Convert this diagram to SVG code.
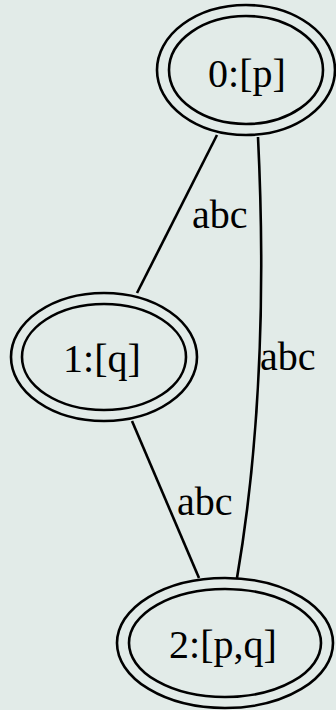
<svg xmlns="http://www.w3.org/2000/svg" width="336" height="710" viewBox="0 0 336 710">
<style>
.n ellipse{fill:none;stroke:#000;stroke-width:2.6}
.e path{fill:none;stroke:#000;stroke-width:2.6}
text{font-family:"Liberation Serif","Times New Roman",serif;font-size:40px;fill:#000}
.c{text-anchor:middle}
</style>
<rect width="336" height="710" fill="#e2ebe8"/>
<g id="edges" class="e">
<path d="M217,135 L137,293"/>
<path d="M258,137 C264,260 264,420 237,578"/>
<path d="M132,421 L199,578"/>
<text x="192" y="228">abc</text>
<text x="260" y="370">abc</text>
<text x="177" y="515">abc</text>
</g>
<g id="node0" class="n">
<ellipse cx="246" cy="70" rx="89" ry="65"/>
<ellipse cx="246" cy="70" rx="77" ry="54"/>
<text class="c" x="247" y="87">0:[p]</text>
</g>
<g id="node1" class="n">
<ellipse cx="104" cy="357" rx="93" ry="64"/>
<ellipse cx="104" cy="357" rx="82" ry="53"/>
<text class="c" x="102" y="372">1:[q]</text>
</g>
<g id="node2" class="n">
<ellipse cx="225" cy="643" rx="108" ry="65"/>
<ellipse cx="225" cy="643" rx="96" ry="54"/>
<text class="c" x="223" y="658">2:[p,q]</text>
</g>
</svg>
